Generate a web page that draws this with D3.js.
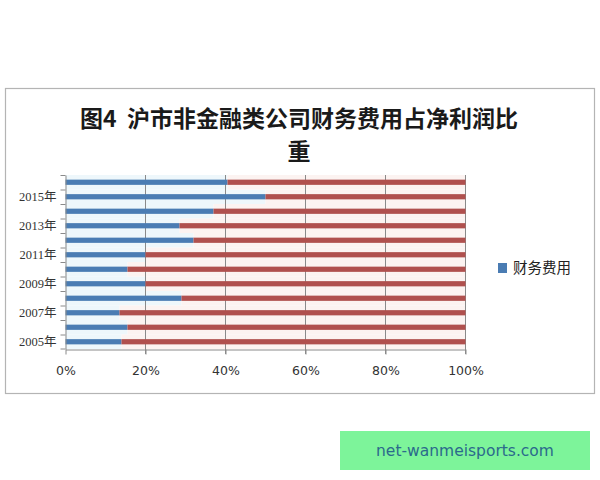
<!DOCTYPE html>
<html><head><meta charset="utf-8">
<script src="https://cdn.jsdelivr.net/npm/d3@7"></script>
<style>body{margin:0;background:#fff}svg{display:block}</style>
</head><body>
<svg id="c" width="600" height="480"></svg>
<script>
const years = ["2005年","2006年","2007年","2008年","2009年","2010年","2011年","2012年","2013年","2014年","2015年","2016年"];
const finCost = [0.14,0.155,0.135,0.29,0.20,0.155,0.20,0.32,0.285,0.37,0.50,0.405];
const seriesNames = ["财务费用","净利润"];
const xTicks = [0,0.2,0.4,0.6,0.8,1.0];
const yLabelShown = ["2005年","2007年","2009年","2011年","2013年","2015年"];
const titleLines = ["图4  沪市非金融类公司财务费用占净利润比","重"];
const watermark = "net-wanmeisports.com";

const rows = years.map((y,i)=>({year:y, a:finCost[i], b:1-finCost[i]}));
const stack = d3.stack().keys(["a","b"])(rows);
const colors = ["#4a7cb3","#b0504e"];
const tints = ["#eef7fb","#fcf3f1"];

const svg = d3.select("#c");
// chart frame
svg.append("rect").attr("x",5.5).attr("y",88.5).attr("width",589).attr("height",305)
  .attr("fill","#fff").attr("stroke","#b4b4b4").attr("stroke-width",1.2);

// title
const t = svg.append("text").attr("text-anchor","middle").style("white-space","pre")
  .attr("font-family","'Noto Sans CJK SC','Noto Sans',sans-serif").attr("font-weight","bold")
  .attr("font-size",23).attr("fill","#1a1a1a");
titleLines.forEach((l,i)=>t.append("tspan").attr("x",299).attr("y",127+i*33).text(l));

const x = d3.scaleLinear().domain([0,1]).range([65.5,465.5]);
const y = d3.scaleBand().domain(years.slice().reverse()).range([175,349]).paddingInner(0.64).paddingOuter(0.32);
const yb = d3.scaleBand().domain(years.slice().reverse()).range([175,349]);

const g = svg.append("g");
// faint tints (row backgrounds)
stack.forEach((s,k)=>{
  g.selectAll(null).data(s).join("rect")
    .attr("x",d=>x(d[0])).attr("width",d=>x(d[1])-x(d[0]))
    .attr("y",d=>yb(d.data.year)).attr("height",yb.bandwidth())
    .attr("fill",tints[k]);
});
// gridlines
g.selectAll(null).data(xTicks.slice(1)).join("line")
  .attr("x1",d=>x(d)).attr("x2",d=>x(d)).attr("y1",175).attr("y2",354)
  .attr("stroke","#8a8a8a").attr("stroke-width",1);
// bars
stack.forEach((s,k)=>{
  g.selectAll(null).data(s).join("rect")
    .attr("x",d=>x(d[0])).attr("width",d=>x(d[1])-x(d[0]))
    .attr("y",d=>y(d.data.year)).attr("height",y.bandwidth())
    .attr("fill",colors[k]);
});

// x axis
const xa = svg.append("g").attr("transform","translate(0,349.5)")
  .call(d3.axisBottom(x).tickValues(xTicks).tickFormat(d3.format(".0%")).tickSize(5).tickSizeOuter(0));
xa.select(".domain").attr("stroke","#8a8a8a");
xa.selectAll(".tick line").attr("stroke","#8a8a8a");
xa.selectAll("text").attr("font-family","'DejaVu Sans',sans-serif").attr("font-size",12.5).attr("fill","#333").attr("dy","1.4em");

// y axis
const ya = svg.append("g").attr("transform","translate(65.5,0)")
  .call(d3.axisLeft(yb).tickSize(0).tickFormat(d=>yLabelShown.includes(d)?d:""));
ya.select(".domain").attr("stroke","#8a8a8a");
ya.selectAll("text").attr("font-family","'Liberation Serif','Noto Sans CJK SC',serif").attr("font-size",12.5).attr("fill","#333").attr("x",-9);
// band boundary ticks
ya.selectAll(null).data(years).join("line")
  .attr("x1",-5).attr("x2",0)
  .attr("y1",d=>yb(d)+0.5).attr("y2",d=>yb(d)+0.5).attr("stroke","#8a8a8a");
ya.append("line").attr("x1",-5).attr("x2",0).attr("y1",349).attr("y2",349).attr("stroke","#8a8a8a");

// legend
const lg = svg.append("g").attr("transform","translate(498,263)");
lg.append("rect").attr("width",9).attr("height",10).attr("fill",colors[0]);
lg.append("text").attr("x",15).attr("y",5).attr("dy","0.36em").attr("font-size",14.5)
  .attr("font-family","'Noto Sans CJK SC',sans-serif").attr("fill","#222").text(seriesNames[0]);

// watermark
svg.append("rect").attr("x",340).attr("y",431).attr("width",250).attr("height",39).attr("fill","#7df49a");
svg.append("text").attr("x",465).attr("y",451).attr("dy","0.35em").attr("text-anchor","middle")
  .attr("font-family","'DejaVu Sans',sans-serif").attr("font-size",15.5).attr("fill","#2b6a8c").text(watermark);
</script>
</body></html>
